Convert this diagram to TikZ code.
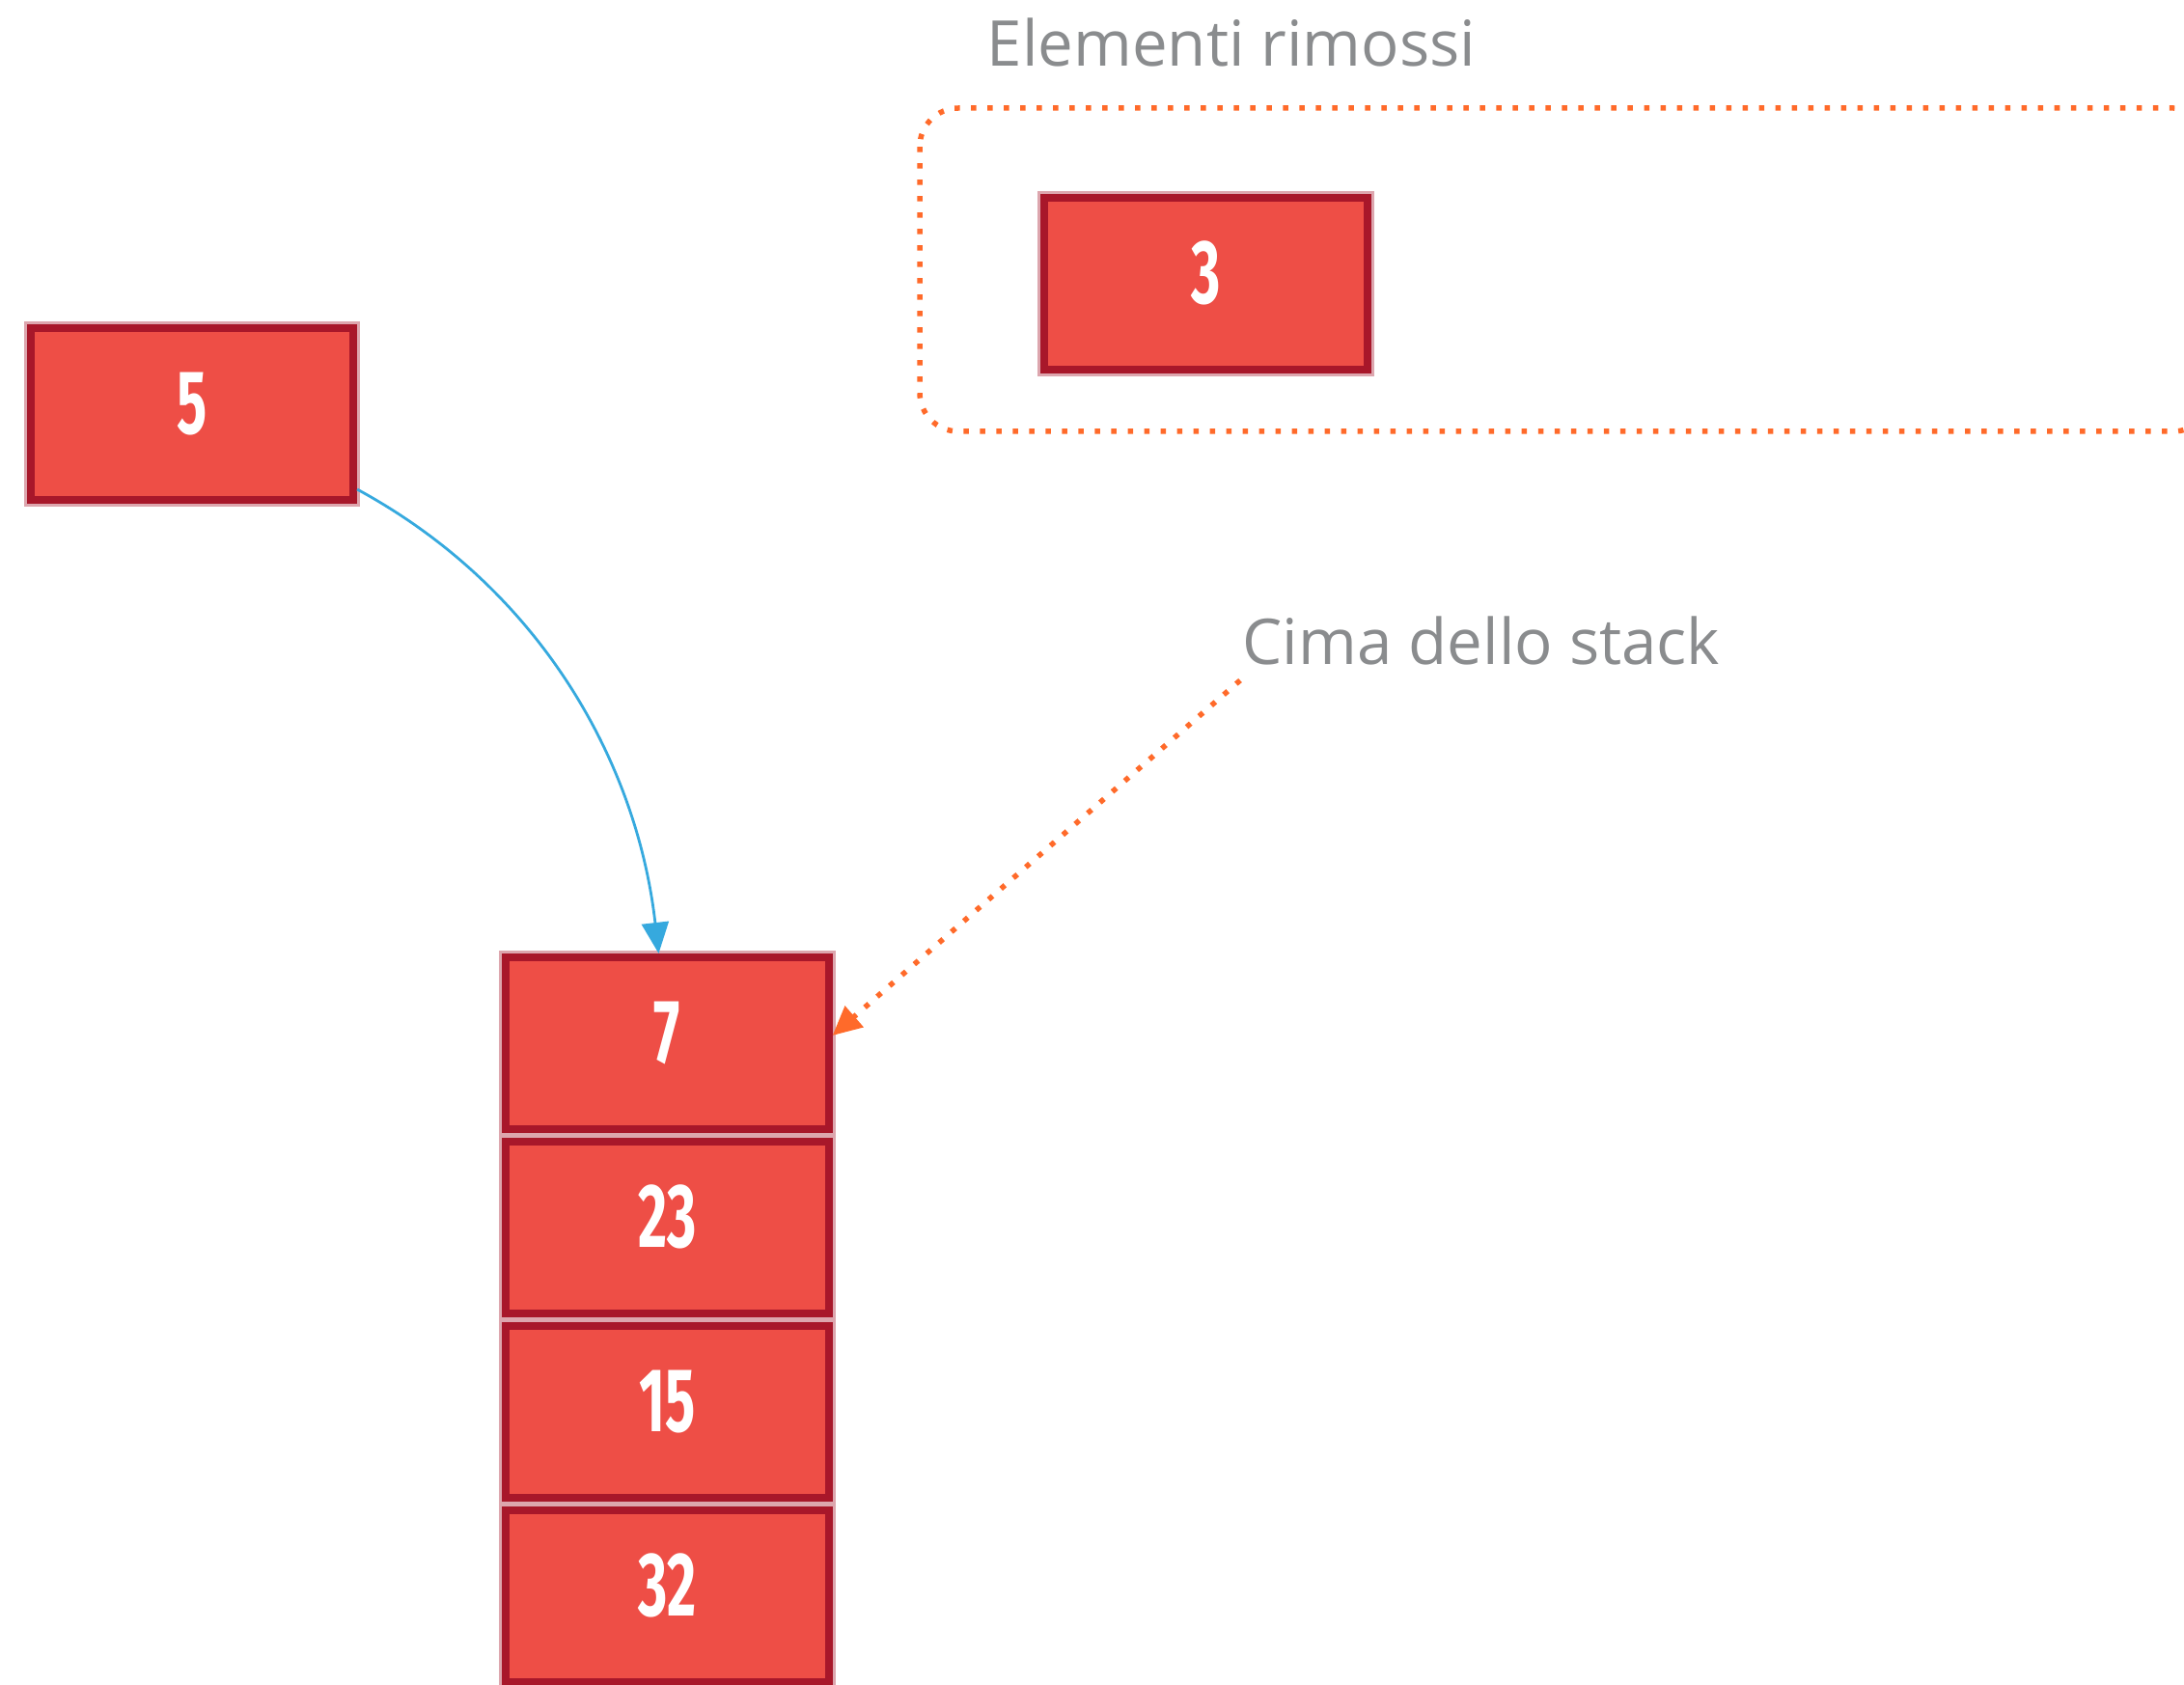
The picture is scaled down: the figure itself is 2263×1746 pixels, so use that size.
\documentclass[tikz,border=0pt]{standalone}
\usepackage{fontspec}
\usetikzlibrary{arrows.meta}
\newfontfamily\labelfont{Open Sans}
\newfontfamily\numfont[FakeStretch=0.62]{Fira Sans}
\definecolor{cellfill}{HTML}{EE4E46}
\definecolor{celldark}{HTML}{A8172A}
\definecolor{cellhalo}{HTML}{DDA6AE}
\definecolor{orangeline}{HTML}{FF6A2A}
\definecolor{blueline}{HTML}{36A9DE}
\definecolor{graytext}{HTML}{8A8C8E}
\tikzset{
  cell/.style={rectangle, fill=cellfill, draw=celldark, line width=0.08cm,
    preaction={draw=cellhalo, line width=0.14cm},
    minimum width=3.34cm, minimum height=1.78cm, text=white,
    font=\numfont\bfseries\fontsize{26.7pt}{30pt}\selectfont,
    text height=0.65cm, text depth=0.24cm},
  caption/.style={inner sep=0pt, text=graytext, anchor=base west,
    font=\labelfont\fontsize{18.6pt}{22pt}\selectfont},
  dotline/.style={draw=orangeline, line width=0.055cm, dash pattern=on 0.055cm off 0.115cm},
  bluearrow/.style={draw=blueline, line width=0.028cm,
    -{Triangle[length=0.32cm,width=0.28cm]}},
  orangearrow/.style={dotline, -{Triangle[length=0.3cm,width=0.28cm]}}
}
\begin{document}
\begin{tikzpicture}[x=0.01cm,y=-0.01cm]
\useasboundingbox (0,0) rectangle (2263,1746);
\clip (0,0) rectangle (2263,1746);
% removed-elements frame
\draw[dotline, rounded corners=0.4cm] (953,112) rectangle (2292,447);
\node[caption] (lblremoved) at (1022,69) {Elementi rimossi};
\node[caption] (lbltop) at (1287,689) {Cima dello stack};
% cells
\node[cell] (n5) at (199,429) {5};
\node[cell] (n3) at (1249.5,294) {3};
\node[cell] (n7) at (691.5,1081) {7};
\node[cell] (n23) at (691.5,1272) {23};
\node[cell] (n15) at (691.5,1463) {15};
\node[cell] (n32) at (691.5,1654) {32};
% connectors
\coordinate (topstart) at (1285,705);
\draw[bluearrow] ([yshift=0.15cm]n5.south east) .. controls (560,610) and (660,790) .. ([xshift=-0.09cm]n7.north);
\draw[orangearrow] (topstart) -- ([yshift=0.08cm]n7.east);
\end{tikzpicture}
\end{document}
